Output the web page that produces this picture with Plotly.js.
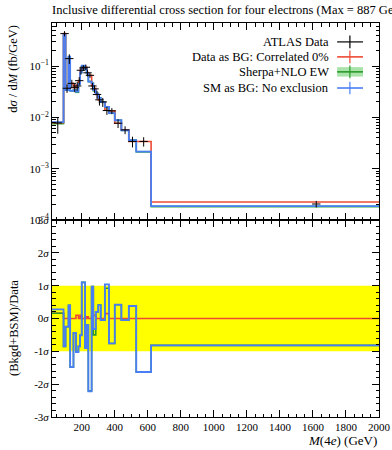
<!DOCTYPE html>
<html><head><meta charset="utf-8">
<script src="https://cdn.plot.ly/plotly-3.0.1.min.js"></script>
<style>body{margin:0;background:#fff}</style>
</head><body>
<div id="plot" style="width:392px;height:450px"></div>
<script>
// ---- data ----
const binEdges = [20, 90, 102, 120, 130, 150, 165, 180, 190, 200, 220, 230, 240, 260, 270, 285, 300, 315, 340, 365, 400, 440, 485, 530, 620, 2000];
const dataX    = [55, 96, 111, 125, 140, 157.5, 172.5, 185, 195, 210, 225, 235, 250, 265, 277.5, 292.5, 307.5, 327.5, 352.5, 382.5, 420, 462.5, 507.5, 575, 1620];
const dataVals = [0.0078, 0.43, 0.037, 0.14, 0.046, 0.038, 0.041, 0.052, 0.083, 0.092, 0.095, 0.074, 0.066, 0.041, 0.036, 0.028, 0.022, 0.020, 0.0136, 0.0134, 0.0077, 0.0057, 0.0034, 0.0034, 0.000205];
const dataErrUp = [0.0023, 0.05, 0.007, 0.03, 0.008, 0.007, 0.008, 0.009, 0.015, 0.012, 0.012, 0.011, 0.007, 0.006, 0.006, 0.005, 0.005, 0.004, 0.0024, 0.0018, 0.0015, 0.0010, 0.0008, 0.0007, 0.00003];
const dataErrDn = [0.0030, 0.05, 0.007, 0.03, 0.008, 0.007, 0.008, 0.009, 0.015, 0.012, 0.012, 0.011, 0.007, 0.006, 0.006, 0.005, 0.005, 0.004, 0.0024, 0.0018, 0.0015, 0.0010, 0.0008, 0.0007, 0.00003];
const redVals   = [0.0079, 0.43, 0.037, 0.14, 0.046, 0.038, 0.042, 0.052, 0.084, 0.092, 0.095, 0.075, 0.066, 0.041, 0.037, 0.028, 0.022, 0.020, 0.0138, 0.0134, 0.0077, 0.0057, 0.0034, 0.0034, 0.000224];
const greenVals = [0.0076, 0.40, 0.034, 0.150, 0.033, 0.034, 0.031, 0.045, 0.075, 0.100, 0.088, 0.072, 0.050, 0.046, 0.033, 0.029, 0.024, 0.0198, 0.0157, 0.0121, 0.0088, 0.0056, 0.0036, 0.00214, 0.000183];
const blueVals  = [0.0081, 0.40, 0.034, 0.152, 0.033, 0.034, 0.032, 0.045, 0.075, 0.102, 0.088, 0.072, 0.050, 0.046, 0.034, 0.029, 0.024, 0.0198, 0.0160, 0.0121, 0.0088, 0.0056, 0.0036, 0.00216, 0.000186];
const greenBandRel = 0.05;
const ratioBlue  = [0.28, -0.85, -0.25, 0.40, -1.48, -0.44, -1.02, -0.85, -0.51, 1.10, -0.90, -0.20, -2.22, 0.97, -0.32, 0.20, 0.41, -0.05, 1.04, -0.76, 0.42, -0.05, 0.38, -1.63, -0.82];
const ratioGreen = [0.16, -0.85, -0.25, 0.40, -1.48, -0.44, -1.00, -0.85, -0.51, 1.10, -0.90, -0.20, -2.20, 0.97, -0.50, 0.20, 0.41, -0.05, 0.92, -0.76, 0.42, -0.05, 0.38, -1.63, -0.82];
const ratioRed   = [0.16, 0.0, 0.0, 0.0, 0.0, 0.0, 0.10, 0.0, 0.10, 0.0, 0.0, 0.05, 0.0, 0.05, 0.10, 0.0, 0.0, 0.0, 0.15, 0.0, 0.0, 0.0, 0.0, 0.0, 0.0];
const xTickVals = [200, 400, 600, 800, 1000, 1200, 1400, 1600, 1800, 2000];
const yTopTickVals = [1e-4, 1e-3, 1e-2, 1e-1];
const yTopTickText = ['10<sup>−4</sup>', '10<sup>−3</sup>', '10<sup>−2</sup>', '10<sup>−1</sup>'];
const yRatioTickVals = [-3, -2, -1, 0, 1, 2, 3];
const yRatioTickText = ['-3<i>σ</i>', '-2<i>σ</i>', '-1<i>σ</i>', '0<i>σ</i>', '1<i>σ</i>', '2<i>σ</i>', '3<i>σ</i>'];
const titleText = 'Inclusive differential cross section for four electrons (Max = 887 GeV)';
const legendLabels = ['ATLAS Data', 'Data as BG: Correlated 0%', 'Sherpa+NLO EW', 'SM as BG: No exclusion'];

// ---- helpers ----
const stepY = v => v.concat([v[v.length - 1]]);
const FONT = 'Liberation Serif, DejaVu Serif, serif';
const RED = '#ee4b35', GREEN = '#2a9a2a', BLUE = '#4a7ef5', GBAND = '#a9e3a9';

const minorLog = [];
for (let e = -4; e <= -1; e++) for (let m = 2; m <= 9; m++) minorLog.push(m * Math.pow(10, e));

const traces = [
  // top panel
  {x: binEdges, y: stepY(greenVals.map(v => v * (1 + greenBandRel))), mode: 'lines', line: {shape: 'hv', width: 0}, hoverinfo: 'skip', xaxis: 'x', yaxis: 'y'},
  {x: binEdges, y: stepY(greenVals.map(v => v * (1 - greenBandRel))), mode: 'lines', line: {shape: 'hv', width: 0}, fill: 'tonexty', fillcolor: GBAND, xaxis: 'x', yaxis: 'y'},
  {x: binEdges, y: stepY(greenVals), mode: 'lines', line: {shape: 'hv', color: GREEN, width: 1.6}, xaxis: 'x', yaxis: 'y'},
  {x: binEdges, y: stepY(redVals), mode: 'lines', line: {shape: 'hv', color: RED, width: 1.6}, xaxis: 'x', yaxis: 'y'},
  {x: binEdges, y: stepY(blueVals), mode: 'lines', line: {shape: 'hv', color: BLUE, width: 1.8}, xaxis: 'x', yaxis: 'y'},
  {x: dataX, y: dataVals, mode: 'markers', marker: {symbol: 'line-ew', size: 6, line: {color: '#000', width: 1}},
   error_y: {type: 'data', symmetric: false, array: dataErrUp, arrayminus: dataErrDn, width: 0, thickness: 1, color: '#000'}, xaxis: 'x', yaxis: 'y'},
  // ratio panel
  {x: binEdges, y: stepY(ratioRed), mode: 'lines', line: {shape: 'hv', color: RED, width: 1.6}, xaxis: 'x2', yaxis: 'y2'},
  {x: binEdges, y: stepY(ratioGreen), mode: 'lines', line: {shape: 'hv', color: GREEN, width: 1.6}, xaxis: 'x2', yaxis: 'y2'},
  {x: binEdges, y: stepY(ratioBlue), mode: 'lines', line: {shape: 'hv', color: BLUE, width: 1.8}, xaxis: 'x2', yaxis: 'y2'}
];

const axBase = {showline: true, linecolor: '#000', linewidth: 1, mirror: 'ticks', ticks: 'inside', ticklen: 7, tickcolor: '#000', showgrid: false, zeroline: false,
  tickfont: {family: FONT, size: 11, color: '#000'}};

const layout = {
  width: 392, height: 450,
  margin: {l: 52, r: 13, t: 23, b: 33},
  paper_bgcolor: '#fff', plot_bgcolor: 'rgba(0,0,0,0)',
  showlegend: false,
  title: {text: titleText, font: {family: FONT, size: 12.5, color: '#000'}, x: 52 / 392, xanchor: 'left', xref: 'container', y: 1 - 10 / 450, yanchor: 'middle', yref: 'container'},
  xaxis: Object.assign({}, axBase, {domain: [0, 1], anchor: 'y', range: [20, 2000], tickvals: xTickVals, showticklabels: false,
    minor: {ticks: 'inside', ticklen: 3.5, tick0: 0, dtick: 50, tickcolor: '#000'}}),
  xaxis2: Object.assign({}, axBase, {domain: [0, 1], anchor: 'y2', range: [20, 2000], tickvals: xTickVals, ticktext: xTickVals.map(String),
    minor: {ticks: 'inside', ticklen: 3.5, tick0: 0, dtick: 50, tickcolor: '#000'}}),
  yaxis: Object.assign({}, axBase, {domain: [0.5, 1], anchor: 'x', type: 'log', range: [-4, -0.16], tickvals: yTopTickVals, ticktext: yTopTickText,
    minor: {ticks: 'inside', ticklen: 3.5, tickvals: minorLog, tickcolor: '#000'}}),
  yaxis2: Object.assign({}, axBase, {domain: [0, 0.5], anchor: 'x2', range: [-3, 3], tickvals: yRatioTickVals, ticktext: yRatioTickText,
    minor: {ticks: 'inside', ticklen: 3.5, tick0: 0, dtick: 0.2, tickcolor: '#000'}}),
  shapes: [
    {type: 'rect', xref: 'x2', yref: 'y2', x0: 20, x1: 2000, y0: -1, y1: 1, fillcolor: '#ffff00', line: {width: 0}, layer: 'below'},
    // legend symbols
    {type: 'line', xref: 'paper', yref: 'paper', x0: 0.872, x1: 0.951, y0: 0.952, y1: 0.952, line: {color: '#000', width: 1.2}},
    {type: 'line', xref: 'paper', yref: 'paper', x0: 0.911, x1: 0.911, y0: 0.936, y1: 0.968, line: {color: '#000', width: 1.2}},
    {type: 'line', xref: 'paper', yref: 'paper', x0: 0.872, x1: 0.951, y0: 0.914, y1: 0.914, line: {color: RED, width: 1.6}},
    {type: 'line', xref: 'paper', yref: 'paper', x0: 0.911, x1: 0.911, y0: 0.898, y1: 0.930, line: {color: RED, width: 1.2}},
    {type: 'rect', xref: 'paper', yref: 'paper', x0: 0.872, x1: 0.951, y0: 0.864, y1: 0.888, fillcolor: GBAND, line: {width: 0}},
    {type: 'line', xref: 'paper', yref: 'paper', x0: 0.872, x1: 0.951, y0: 0.876, y1: 0.876, line: {color: GREEN, width: 1.6}},
    {type: 'line', xref: 'paper', yref: 'paper', x0: 0.911, x1: 0.911, y0: 0.860, y1: 0.892, line: {color: GREEN, width: 1.2}},
    {type: 'line', xref: 'paper', yref: 'paper', x0: 0.872, x1: 0.951, y0: 0.835, y1: 0.835, line: {color: BLUE, width: 1.6}},
    {type: 'line', xref: 'paper', yref: 'paper', x0: 0.911, x1: 0.911, y0: 0.819, y1: 0.851, line: {color: BLUE, width: 1.2}}
  ],
  annotations: [
    {text: legendLabels[0], xref: 'paper', yref: 'paper', x: 0.853, y: 0.952, xanchor: 'right', yanchor: 'middle', showarrow: false, font: {family: FONT, size: 12.5, color: '#000'}},
    {text: legendLabels[1], xref: 'paper', yref: 'paper', x: 0.853, y: 0.914, xanchor: 'right', yanchor: 'middle', showarrow: false, font: {family: FONT, size: 12.5, color: '#000'}},
    {text: legendLabels[2], xref: 'paper', yref: 'paper', x: 0.853, y: 0.876, xanchor: 'right', yanchor: 'middle', showarrow: false, font: {family: FONT, size: 12.5, color: '#000'}},
    {text: legendLabels[3], xref: 'paper', yref: 'paper', x: 0.853, y: 0.835, xanchor: 'right', yanchor: 'middle', showarrow: false, font: {family: FONT, size: 12.5, color: '#000'}},
    {text: 'd<i>σ</i> / d<i>M</i> (fb/GeV)', xref: 'paper', yref: 'paper', x: -0.12, y: 1, xanchor: 'center', yanchor: 'top', textangle: -90, showarrow: false, font: {family: FONT, size: 12.5, color: '#000'}},
    {text: '(Bkgd+BSM)/Data', xref: 'paper', yref: 'paper', x: -0.116, y: 0.226, xanchor: 'center', yanchor: 'middle', textangle: -90, showarrow: false, font: {family: FONT, size: 12.5, color: '#000'}},
    {text: '<i>M</i>(4<i>e</i>) (GeV)', xref: 'paper', yref: 'paper', x: 1, y: -0.06, xanchor: 'right', yanchor: 'middle', showarrow: false, font: {family: FONT, size: 13, color: '#000'}}
  ]
};

Plotly.newPlot('plot', traces, layout, {staticPlot: true, displayModeBar: false});
</script>
</body></html>
